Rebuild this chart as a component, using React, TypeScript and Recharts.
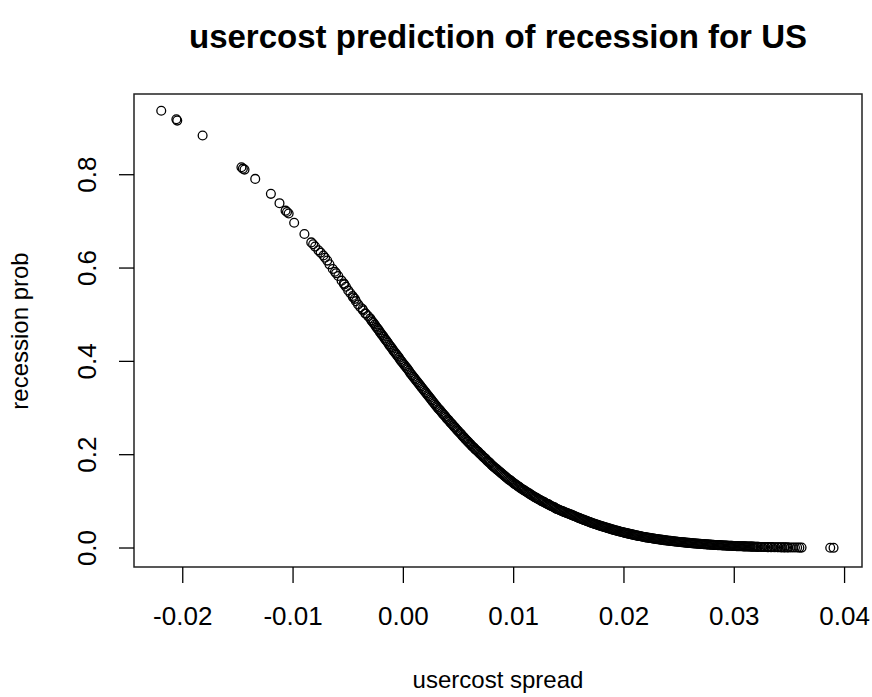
import React from 'react';
import { ScatterChart, Scatter, XAxis, YAxis, ReferenceArea } from 'recharts';

// usercost spread vs. predicted recession probability
const upperTail: [number, number][] = [
  [-0.02195, 0.937], [-0.02058, 0.919], [-0.0205, 0.916], [-0.0182, 0.884],
  [-0.01468, 0.816], [-0.01455, 0.813], [-0.0144, 0.811], [-0.01343, 0.791],
  [-0.01201, 0.759], [-0.01123, 0.739], [-0.01068, 0.723], [-0.01055, 0.72],
  [-0.0104, 0.717], [-0.0099, 0.697], [-0.00897, 0.673], [-0.00835, 0.655],
  [-0.00818, 0.651], [-0.008, 0.646], [-0.0077, 0.638], [-0.0075, 0.633],
  [-0.00725, 0.627], [-0.0071, 0.622], [-0.0069, 0.616], [-0.0067, 0.608],
  [-0.0064, 0.598], [-0.0062, 0.592], [-0.0061, 0.589], [-0.0059, 0.583],
  [-0.0056, 0.573], [-0.0054, 0.567], [-0.00535, 0.565], [-0.0052, 0.56],
  [-0.005, 0.552], [-0.0048, 0.546], [-0.0046, 0.54], [-0.00455, 0.537],
  [-0.0044, 0.534], [-0.0043, 0.529], [-0.0041, 0.522], [-0.0039, 0.516],
  [-0.0037, 0.512], [-0.00365, 0.509], [-0.00345, 0.503], [-0.0034, 0.502],
  [-0.0032, 0.497],
];

const mainBand: [number, number][] = [
  [-0.003, 0.492], [-0.0028, 0.485], [-0.0026, 0.479], [-0.0024, 0.472], [-0.0022, 0.466],
  [-0.002, 0.459], [-0.0018, 0.453], [-0.0016, 0.446], [-0.0014, 0.44], [-0.0012, 0.433],
  [-0.001, 0.427], [-0.0008, 0.42], [-0.0006, 0.414], [-0.0004, 0.408], [-0.0002, 0.401],
  [0.0, 0.395], [0.0002, 0.389], [0.0004, 0.383], [0.0006, 0.376], [0.0008, 0.37],
  [0.001, 0.364], [0.0012, 0.358], [0.0014, 0.352], [0.0016, 0.346], [0.0018, 0.34],
  [0.002, 0.334], [0.0022, 0.328], [0.0024, 0.322], [0.0026, 0.316], [0.0028, 0.31],
  [0.003, 0.304], [0.0032, 0.298], [0.0034, 0.293], [0.0036, 0.287], [0.0038, 0.282],
  [0.004, 0.276], [0.0042, 0.271], [0.0044, 0.266], [0.0046, 0.26], [0.0048, 0.255],
  [0.005, 0.25], [0.0052, 0.245], [0.0054, 0.239], [0.0056, 0.234], [0.0058, 0.229],
  [0.006, 0.224], [0.0062, 0.219], [0.0064, 0.215], [0.0066, 0.21], [0.0068, 0.206],
  [0.007, 0.201], [0.0072, 0.196], [0.0074, 0.192], [0.0076, 0.187], [0.0078, 0.183],
  [0.008, 0.178], [0.0082, 0.174], [0.0084, 0.17], [0.0086, 0.166], [0.0088, 0.162],
  [0.009, 0.158], [0.0092, 0.154], [0.0094, 0.15], [0.0096, 0.146], [0.0098, 0.143],
  [0.01, 0.139], [0.0102, 0.136], [0.0104, 0.132], [0.0106, 0.129], [0.0108, 0.126],
  [0.011, 0.123], [0.0112, 0.12], [0.0114, 0.117], [0.0116, 0.114], [0.0118, 0.111],
  [0.012, 0.108], [0.0122, 0.105], [0.0124, 0.103], [0.0126, 0.1], [0.0128, 0.098],
  [0.013, 0.095], [0.0132, 0.093], [0.0134, 0.09], [0.0136, 0.088], [0.0138, 0.085],
  [0.014, 0.083], [0.0142, 0.081], [0.0144, 0.079], [0.0146, 0.077], [0.0148, 0.075],
  [0.015, 0.0735], [0.0152, 0.0715], [0.0154, 0.0695], [0.0156, 0.0675], [0.0158, 0.0655],
  [0.016, 0.0635], [0.0162, 0.0617], [0.0164, 0.0599], [0.0166, 0.0581], [0.0168, 0.0563],
  [0.017, 0.0545], [0.0172, 0.0529], [0.0174, 0.0513], [0.0176, 0.0497], [0.0178, 0.0481],
  [0.018, 0.0465], [0.0182, 0.0451], [0.0184, 0.0436], [0.0186, 0.0422], [0.0188, 0.0407],
  [0.019, 0.0393], [0.0192, 0.038], [0.0194, 0.0368], [0.0196, 0.0355], [0.0198, 0.0343],
  [0.02, 0.033], [0.0202, 0.0319], [0.0204, 0.0308], [0.0206, 0.0297], [0.0208, 0.0286],
  [0.021, 0.0275], [0.0212, 0.0266], [0.0214, 0.0256], [0.0216, 0.0247], [0.0218, 0.0237],
  [0.022, 0.0228], [0.0222, 0.022], [0.0224, 0.0213], [0.0226, 0.0205], [0.0228, 0.0198],
  [0.023, 0.019], [0.0232, 0.0183], [0.0234, 0.0177], [0.0236, 0.017], [0.0238, 0.0164],
  [0.024, 0.0157], [0.0242, 0.0152], [0.0244, 0.0146], [0.0246, 0.0141], [0.0248, 0.0135],
  [0.025, 0.013], [0.0252, 0.0125], [0.0254, 0.012], [0.0256, 0.0116], [0.0258, 0.0111],
  [0.026, 0.0106], [0.0262, 0.0102], [0.0264, 0.0098], [0.0266, 0.0094], [0.0268, 0.009],
  [0.027, 0.0086], [0.0272, 0.0083], [0.0274, 0.0079], [0.0276, 0.0076], [0.0278, 0.0072],
  [0.028, 0.0069], [0.0282, 0.0066], [0.0284, 0.0063], [0.0286, 0.0061], [0.0288, 0.0058],
  [0.029, 0.0055], [0.0292, 0.0053], [0.0294, 0.005], [0.0296, 0.0048], [0.0298, 0.0045],
  [0.03, 0.0043], [0.0302, 0.0041], [0.0304, 0.0039], [0.0306, 0.0038], [0.0308, 0.0036],
  [0.031, 0.0034], [0.0312, 0.0032], [0.0314, 0.0031], [0.0316, 0.0029], [0.0318, 0.0028],
  [0.032, 0.0026],
];

const mainBandMid: [number, number][] = [
  [-0.0029, 0.488], [-0.0027, 0.482], [-0.0025, 0.475], [-0.0023, 0.469], [-0.0021, 0.462],
  [-0.0019, 0.456], [-0.0017, 0.449], [-0.0015, 0.443], [-0.0013, 0.436], [-0.0011, 0.43],
  [-0.0009, 0.423], [-0.0007, 0.417], [-0.0005, 0.411], [-0.0003, 0.404], [-0.0001, 0.398],
  [0.0001, 0.392], [0.0003, 0.386], [0.0005, 0.38], [0.0007, 0.373], [0.0009, 0.367],
  [0.0011, 0.361], [0.0013, 0.355], [0.0015, 0.349], [0.0017, 0.343], [0.0019, 0.337],
  [0.0021, 0.331], [0.0023, 0.325], [0.0025, 0.319], [0.0027, 0.313], [0.0029, 0.307],
  [0.0031, 0.301], [0.0033, 0.296], [0.0035, 0.29], [0.0037, 0.285], [0.0039, 0.279],
  [0.0041, 0.274], [0.0043, 0.268], [0.0045, 0.263], [0.0047, 0.258], [0.0049, 0.252],
  [0.0051, 0.247], [0.0053, 0.242], [0.0055, 0.237], [0.0057, 0.232], [0.0059, 0.227],
  [0.0061, 0.222], [0.0063, 0.217], [0.0065, 0.212], [0.0067, 0.208], [0.0069, 0.203],
  [0.0071, 0.199], [0.0073, 0.194], [0.0075, 0.19], [0.0077, 0.185], [0.0079, 0.181],
  [0.0081, 0.176], [0.0083, 0.172], [0.0085, 0.168], [0.0087, 0.164], [0.0089, 0.16],
  [0.0091, 0.156], [0.0093, 0.152], [0.0095, 0.148], [0.0097, 0.145], [0.0099, 0.141],
  [0.0101, 0.137], [0.0103, 0.134], [0.0105, 0.131], [0.0107, 0.127], [0.0109, 0.124],
  [0.0111, 0.121], [0.0113, 0.118], [0.0115, 0.115], [0.0117, 0.112], [0.0119, 0.109],
  [0.0121, 0.107], [0.0123, 0.104], [0.0125, 0.101], [0.0127, 0.099], [0.0129, 0.096],
  [0.0131, 0.094], [0.0133, 0.091], [0.0135, 0.089], [0.0137, 0.087], [0.0139, 0.084],
  [0.0141, 0.082], [0.0143, 0.08], [0.0145, 0.078], [0.0147, 0.076], [0.0149, 0.0743],
  [0.0151, 0.0725], [0.0153, 0.0705], [0.0155, 0.0685], [0.0157, 0.0665], [0.0159, 0.0645],
  [0.0161, 0.0626], [0.0163, 0.0608], [0.0165, 0.059], [0.0167, 0.0572], [0.0169, 0.0554],
  [0.0171, 0.0537], [0.0173, 0.0521], [0.0175, 0.0505], [0.0177, 0.0489], [0.0179, 0.0473],
  [0.0181, 0.0458], [0.0183, 0.0444], [0.0185, 0.0429], [0.0187, 0.0415], [0.0189, 0.04],
  [0.0191, 0.0387], [0.0193, 0.0374], [0.0195, 0.0362], [0.0197, 0.0349], [0.0199, 0.0337],
  [0.0201, 0.0325], [0.0203, 0.0314], [0.0205, 0.0303], [0.0207, 0.0292], [0.0209, 0.0281],
  [0.0211, 0.0271], [0.0213, 0.0261], [0.0215, 0.0252], [0.0217, 0.0242], [0.0219, 0.0233],
  [0.0221, 0.0224], [0.0223, 0.0217], [0.0225, 0.0209], [0.0227, 0.0202], [0.0229, 0.0194],
  [0.0231, 0.0187], [0.0233, 0.018], [0.0235, 0.0174], [0.0237, 0.0167], [0.0239, 0.0161],
  [0.0241, 0.0155], [0.0243, 0.0149], [0.0245, 0.0144], [0.0247, 0.0138], [0.0249, 0.0133],
  [0.0251, 0.0128], [0.0253, 0.0123], [0.0255, 0.0118], [0.0257, 0.0114], [0.0259, 0.0109],
  [0.0261, 0.0104], [0.0263, 0.01], [0.0265, 0.0096], [0.0267, 0.0092], [0.0269, 0.0088],
  [0.0271, 0.0085], [0.0273, 0.0081], [0.0275, 0.0078], [0.0277, 0.0074], [0.0279, 0.0071],
  [0.0281, 0.0068], [0.0283, 0.0065], [0.0285, 0.0062], [0.0287, 0.006], [0.0289, 0.0057],
  [0.0291, 0.0054], [0.0293, 0.0052], [0.0295, 0.0049], [0.0297, 0.0047], [0.0299, 0.0044],
  [0.0301, 0.0042], [0.0303, 0.004], [0.0305, 0.0039], [0.0307, 0.0037], [0.0309, 0.0035],
  [0.0311, 0.0033], [0.0313, 0.0032], [0.0315, 0.003], [0.0317, 0.0029], [0.0319, 0.0027],
];

const lowerTail: [number, number][] = [
  [0.0321, 0.0025], [0.0322, 0.0025], [0.0324, 0.0023], [0.0325, 0.0023], [0.0327, 0.0021],
  [0.0328, 0.0021], [0.033, 0.002], [0.0331, 0.0019], [0.0333, 0.0018], [0.0334, 0.0018],
  [0.0336, 0.0017], [0.0337, 0.0016], [0.0339, 0.0016], [0.034, 0.0015], [0.0342, 0.0015],
  [0.0343, 0.0014], [0.0345, 0.0014], [0.0346, 0.0013], [0.0348, 0.0013], [0.0349, 0.0012],
  [0.0351, 0.0012], [0.0353, 0.0011], [0.0355, 0.0011], [0.0357, 0.001], [0.0359, 0.0009],
  [0.0361, 0.0009],
  [0.0387, 0.0005], [0.039, 0.0004],
];

const xTicks = [-0.02, -0.01, 0.0, 0.01, 0.02, 0.03, 0.04];
const yTicks = [0.0, 0.2, 0.4, 0.6, 0.8];

const points = [...upperTail, ...mainBand, ...mainBandMid, ...lowerTail].map(([x, y]) => ({ x, y }));

const FONT = '"Liberation Sans", Arial, sans-serif';

const Ring = (props: any) => (
  <circle cx={props.cx} cy={props.cy} r={4.4} fill="none" stroke="#000" strokeWidth={1.3} />
);

const XTick = (props: any) => {
  const { x, y, payload } = props;
  return (
    <text x={x} y={y + 40} textAnchor="middle" fontSize={26} fontFamily={FONT} fill="#000">
      {payload.value.toFixed(2)}
    </text>
  );
};

const YTick = (props: any) => {
  const { x, y, payload } = props;
  const bx = x - 21;
  return (
    <text x={bx} y={y} transform={`rotate(-90, ${bx}, ${y})`} textAnchor="middle"
          fontSize={26} fontFamily={FONT} fill="#000">
      {payload.value.toFixed(1)}
    </text>
  );
};

export default function App() {
  return (
    <div style={{ position: 'absolute', left: 0, top: 0, width: 872, height: 697, background: '#fff' }}>
      <ScatterChart width={872} height={697} margin={{ top: 94, right: 10, bottom: 0, left: 0 }}>
        <XAxis type="number" dataKey="x" domain={[-0.02442, 0.04158]} ticks={xTicks}
               allowDataOverflow axisLine={false} tickSize={16} height={130}
               tickLine={{ stroke: '#000', strokeWidth: 1.3 }} tick={<XTick />} interval={0} />
        <YAxis type="number" dataKey="y" domain={[-0.0407, 0.973]} ticks={yTicks}
               allowDataOverflow axisLine={false} tickSize={15} width={134}
               tickLine={{ stroke: '#000', strokeWidth: 1.3 }} tick={<YTick />} interval={0} />
        <ReferenceArea x1={-0.02442} x2={0.04158} y1={-0.0407} y2={0.973}
                       fill="none" fillOpacity={0} stroke="#222" strokeWidth={1.5} ifOverflow="visible" />
        <Scatter data={points} shape={<Ring />} isAnimationActive={false} />
      </ScatterChart>
      <svg width={872} height={697} style={{ position: 'absolute', left: 0, top: 0, pointerEvents: 'none' }}>
        <text x={498} y={48} textAnchor="middle" fontSize={33} fontWeight="bold" fontFamily={FONT} fill="#000">
          usercost prediction of recession for US
        </text>
        <text x={498} y={688} textAnchor="middle" fontSize={24} fontFamily={FONT} fill="#000">
          usercost spread
        </text>
        <text x={28} y={331} transform="rotate(-90, 28, 331)" textAnchor="middle" fontSize={24}
              fontFamily={FONT} fill="#000">
          recession prob
        </text>
      </svg>
    </div>
  );
}
